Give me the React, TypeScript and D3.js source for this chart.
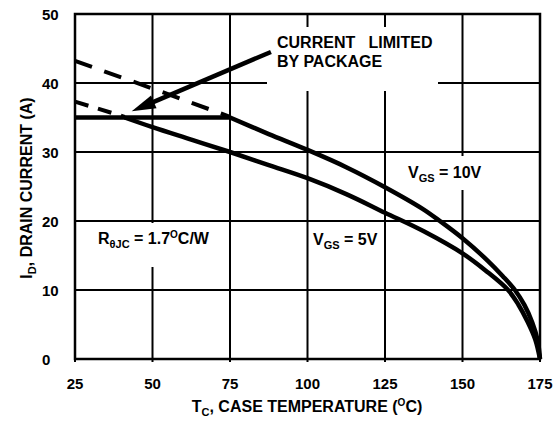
import React from "react";
import * as d3 from "d3";

const tempTicks = [25, 50, 75, 100, 125, 150, 175];
const currentTicks = [0, 10, 20, 30, 40, 50];

// [T_C, I_D]
const packageLimit: [number, number][] = [[25, 35], [75, 35]];
const vgs10Unlimited: [number, number][] = [[25, 43.2], [50, 39.2], [75, 35.1]];
const vgs5Unlimited: [number, number][] = [[25, 37.3], [41, 35.1]];
const vgs10: [number, number][] = [
  [75, 35], [87.5, 32.6], [100, 30.3], [112.5, 27.8], [125, 24.9], [137, 21.8],
  [142.7, 20], [150, 17.5], [158, 14.3], [163, 12], [166.9, 10], [170, 7.8],
  [172.5, 5.3], [174.2, 2.8], [175, 0],
];
const vgs5: [number, number][] = [
  [41, 35], [50, 33.6], [62.5, 31.8], [75, 30], [87.5, 28.1], [100, 26.2],
  [112.5, 23.9], [125, 21.2], [137.5, 18.5], [150, 15.3], [157.5, 12.8],
  [164.7, 10], [168, 7.9], [171, 5.4], [173.5, 2.8], [175, 0],
];
// arrow: from tail to tip, in data units
const arrowTail: [number, number] = [88.2, 44.5];
const arrowTip: [number, number] = [43.3, 35.9];

const FONT = "'Liberation Sans', Arial, Helvetica, sans-serif";

export default function App() {
  const W = 559, H = 424;
  const x = d3.scaleLinear().domain([25, 175]).range([75, 540]);
  const y = d3.scaleLinear().domain([0, 50]).range([359, 14]);
  const line = d3.line<[number, number]>().x(d => x(d[0])).y(d => y(d[1]));
  const curve = d3.line<[number, number]>().x(d => x(d[0])).y(d => y(d[1])).curve(d3.curveCatmullRom.alpha(0.5));

  const tx = x(arrowTail[0]), ty = y(arrowTail[1]);
  const px = x(arrowTip[0]), py = y(arrowTip[1]);
  const dx = px - tx, dy = py - ty;
  const len = Math.hypot(dx, dy);
  const ux = dx / len, uy = dy / len;
  const hl = 24, hw = 7;
  const bx = px - ux * hl, by = py - uy * hl;
  const head = `M${px},${py} L${bx - uy * hw},${by + ux * hw} L${bx + uy * hw},${by - ux * hw} Z`;

  return (
    <svg width={W} height={H} style={{ position: "absolute", left: 0, top: 0, background: "#fff" }}
      fontFamily={FONT} fontWeight="bold">
      {/* grid */}
      {tempTicks.map(t => (
        <line key={"v" + t} x1={x(t)} x2={x(t)} y1={y(50)} y2={y(0) + 3} stroke="#000" strokeWidth={2} />
      ))}
      {currentTicks.map(v => (
        <line key={"h" + v} x1={x(25)} x2={x(175)} y1={y(v)} y2={y(v)} stroke="#000" strokeWidth={2} />
      ))}
      <rect x={x(25)} y={y(50)} width={x(175) - x(25)} height={y(0) - y(50)} fill="none" stroke="#000" strokeWidth={2.5} />

      {/* label backgrounds */}
      <rect x={267} y={27} width={171} height={64} fill="#fff" />
      <rect x={90} y={223} width={130} height={44} fill="#fff" />
      <rect x={400} y={156} width={90} height={34} fill="#fff" />

      {/* tick labels */}
      {currentTicks.map(v => (
        <text key={"yt" + v} x={42} y={y(v) + 5.5} fontSize={15}>{v}</text>
      ))}
      {tempTicks.map(t => (
        <text key={"xt" + t} x={x(t)} y={389} fontSize={15} textAnchor="middle">{t}</text>
      ))}

      {/* axis titles */}
      <text x={307} y={412} fontSize={16} textAnchor="middle">
        T<tspan fontSize={11} dy={4}>C</tspan><tspan dy={-4}>, CASE TEMPERATURE (</tspan>
        <tspan fontSize={10} dy={-6}>O</tspan><tspan dy={6}>C)</tspan>
      </text>
      <text transform={`translate(32,188) rotate(-90)`} fontSize={16} textAnchor="middle">
        I<tspan fontSize={11} dy={4}>D</tspan><tspan dy={-4}>, DRAIN CURRENT (A)</tspan>
      </text>

      {/* annotations */}
      <text x={277} y={48} fontSize={16} style={{ whiteSpace: "pre" }}>{"CURRENT   LIMITED"}</text>
      <text x={277} y={67} fontSize={16}>BY PACKAGE</text>
      <text x={98} y={244} fontSize={16}>
        R<tspan fontSize={11} dy={4}>θJC</tspan><tspan dy={-4}> = 1.7</tspan>
        <tspan fontSize={10} dy={-6}>O</tspan><tspan dy={6}>C/W</tspan>
      </text>
      <text x={408} y={178} fontSize={16}>
        V<tspan fontSize={11} dy={4}>GS</tspan><tspan dy={-4}> = 10V</tspan>
      </text>
      <text x={313} y={245} fontSize={16}>
        V<tspan fontSize={11} dy={4}>GS</tspan><tspan dy={-4}> = 5V</tspan>
      </text>

      {/* curves */}
      <path d={line(vgs10Unlimited) || ""} fill="none" stroke="#000" strokeWidth={4} strokeDasharray="18,13" />
      <path d={line(vgs5Unlimited) || ""} fill="none" stroke="#000" strokeWidth={4} strokeDasharray="14,10" />
      <path d={line(packageLimit) || ""} fill="none" stroke="#000" strokeWidth={4.5} />
      <path d={curve(vgs10) || ""} fill="none" stroke="#000" strokeWidth={4.5} />
      <path d={curve(vgs5) || ""} fill="none" stroke="#000" strokeWidth={4.5} />

      {/* arrow */}
      <line x1={tx} y1={ty} x2={bx + ux * 2} y2={by + uy * 2} stroke="#000" strokeWidth={4.5} />
      <path d={head} fill="#000" />
    </svg>
  );
}
